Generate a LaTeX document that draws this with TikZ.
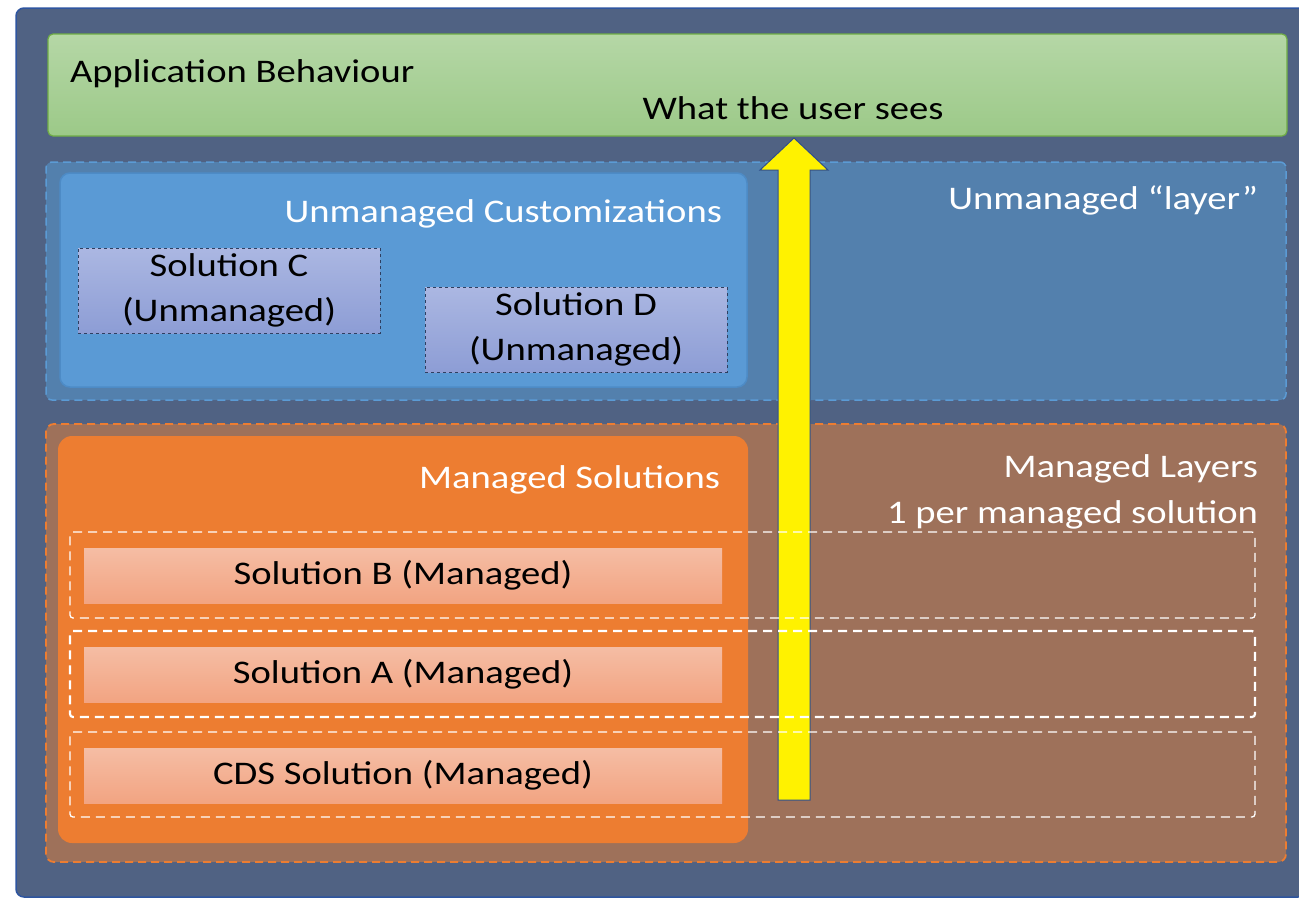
\documentclass[tikz,border=0pt]{standalone}
\usepackage{fontspec}
\setmainfont{Carlito}[FakeStretch=1.17]
\usetikzlibrary{calc}
\definecolor{frameFill}{HTML}{506283}
\definecolor{frameBorder}{HTML}{2E55A0}
\definecolor{greenTop}{HTML}{B5D7A6}
\definecolor{greenBot}{HTML}{9CC988}
\definecolor{greenBorder}{HTML}{6FAC46}
\definecolor{ulayerFill}{HTML}{5380AD}
\definecolor{ulayerBorder}{HTML}{5B9BD5}
\definecolor{ucustFill}{HTML}{5A9AD5}
\definecolor{ucustBorder}{HTML}{4D8BC6}
\definecolor{solTop}{HTML}{ABB7E2}
\definecolor{solBot}{HTML}{8D9DD5}
\definecolor{solBorder}{HTML}{2F3F60}
\definecolor{mlayerFill}{HTML}{9E715A}
\definecolor{orangeC}{HTML}{ED7D31}
\definecolor{salTop}{HTML}{F5BDA4}
\definecolor{salBot}{HTML}{F2A482}
\definecolor{arrowBorder}{HTML}{2F4E8C}
\begin{document}
\begin{tikzpicture}[x=1pt,y=-1pt,
  txt/.style={font=\fontsize{33}{45}\selectfont, inner sep=0pt, outer sep=0pt},
  rbox/.style={inner sep=0pt, outer sep=0pt, anchor=north west},
  solbox/.style={rbox, draw=solBorder, dashed, line width=0.7pt, top color=solTop, bottom color=solBot, minimum width=302pt, minimum height=85pt, align=center, font=\fontsize{33}{45}\selectfont},
  salbox/.style={rbox, top color=salTop, bottom color=salBot, minimum width=638pt, minimum height=55pt, font=\fontsize{33}{45}\selectfont},
  layerdash/.style={rbox, draw=white, dashed, dash pattern=on 9pt off 6pt, line width=1.3pt, rounded corners=3pt, minimum width=1185pt, minimum height=86pt}
]
\useasboundingbox (0,0) rectangle (1299,898);
% outer frame
\node[rbox, draw=frameBorder, fill=frameFill, line width=1.5pt, rounded corners=8pt, minimum width=1290pt, minimum height=889pt] (frame) at (16,8) {};
% application behaviour
\node[rbox, draw=greenBorder, line width=1.2pt, top color=greenTop, bottom color=greenBot, rounded corners=5pt, minimum width=1239pt, minimum height=102pt] (green) at (48,34) {};
\node[txt, anchor=base west] (appt) at (70,82) {Application Behaviour};
\node[txt, anchor=base] (usert) at (793,119) {What the user sees};
% unmanaged layer
\node[rbox, draw=ulayerBorder, fill=ulayerFill, dashed, dash pattern=on 8pt off 5pt, line width=1.5pt, rounded corners=6pt, minimum width=1240pt, minimum height=238pt] (ulayer) at (46,162) {};
\node[txt, anchor=base east, text=white] (ulayert) at (1258,209) {Unmanaged “layer”};
\node[rbox, draw=ucustBorder, fill=ucustFill, line width=1.5pt, rounded corners=10pt, minimum width=687pt, minimum height=214pt] (ucust) at (60,173) {};
\node[txt, anchor=base east, text=white] (ucustt) at (722,222) {Unmanaged Customizations};
\node[solbox] (solC) at (78,248) {Solution C\\(Unmanaged)};
\node[solbox] (solD) at (425,287) {Solution D\\(Unmanaged)};
% managed layers
\node[rbox, draw=orangeC, fill=mlayerFill, dashed, dash pattern=on 8pt off 5pt, line width=1.8pt, rounded corners=8pt, minimum width=1240pt, minimum height=438pt] (mlayer) at (46,424) {};
\node[txt, anchor=base east, text=white] (mlayert) at (1258,477) {Managed Layers};
\node[txt, anchor=base east, text=white] (mlayert2) at (1258,523) {1 per managed solution};
\node[rbox, fill=orangeC, rounded corners=14pt, minimum width=690pt, minimum height=407pt] (msol) at (58,436) {};
\node[txt, anchor=base east, text=white] (msolt) at (720,488) {Managed Solutions};
\node[salbox] (salB) at (84,548) {Solution B (Managed)};
\node[salbox] (salA) at (84,647) {Solution A (Managed)};
\node[salbox] (salCDS) at (84,748) {CDS Solution (Managed)};
% arrow
\coordinate (arrbot) at (794,800);
\coordinate (arrtip) at (794,138);
\filldraw[fill=yellow, draw=arrowBorder, line width=1pt, line join=miter]
  ($(arrbot)+(-16,0)$) -- ($(arrtip)+(-16,32)$) -- ($(arrtip)+(-34,32)$) -- (arrtip)
  -- ($(arrtip)+(34,32)$) -- ($(arrtip)+(16,32)$) -- ($(arrbot)+(16,0)$) -- cycle;
% managed layer rows
\node[layerdash] (rowB) at (70,532) {};
\node[layerdash, line width=2.2pt] (rowA) at (70,631) {};
\node[layerdash, minimum height=85pt] (rowCDS) at (70,732) {};
\end{tikzpicture}
\end{document}
